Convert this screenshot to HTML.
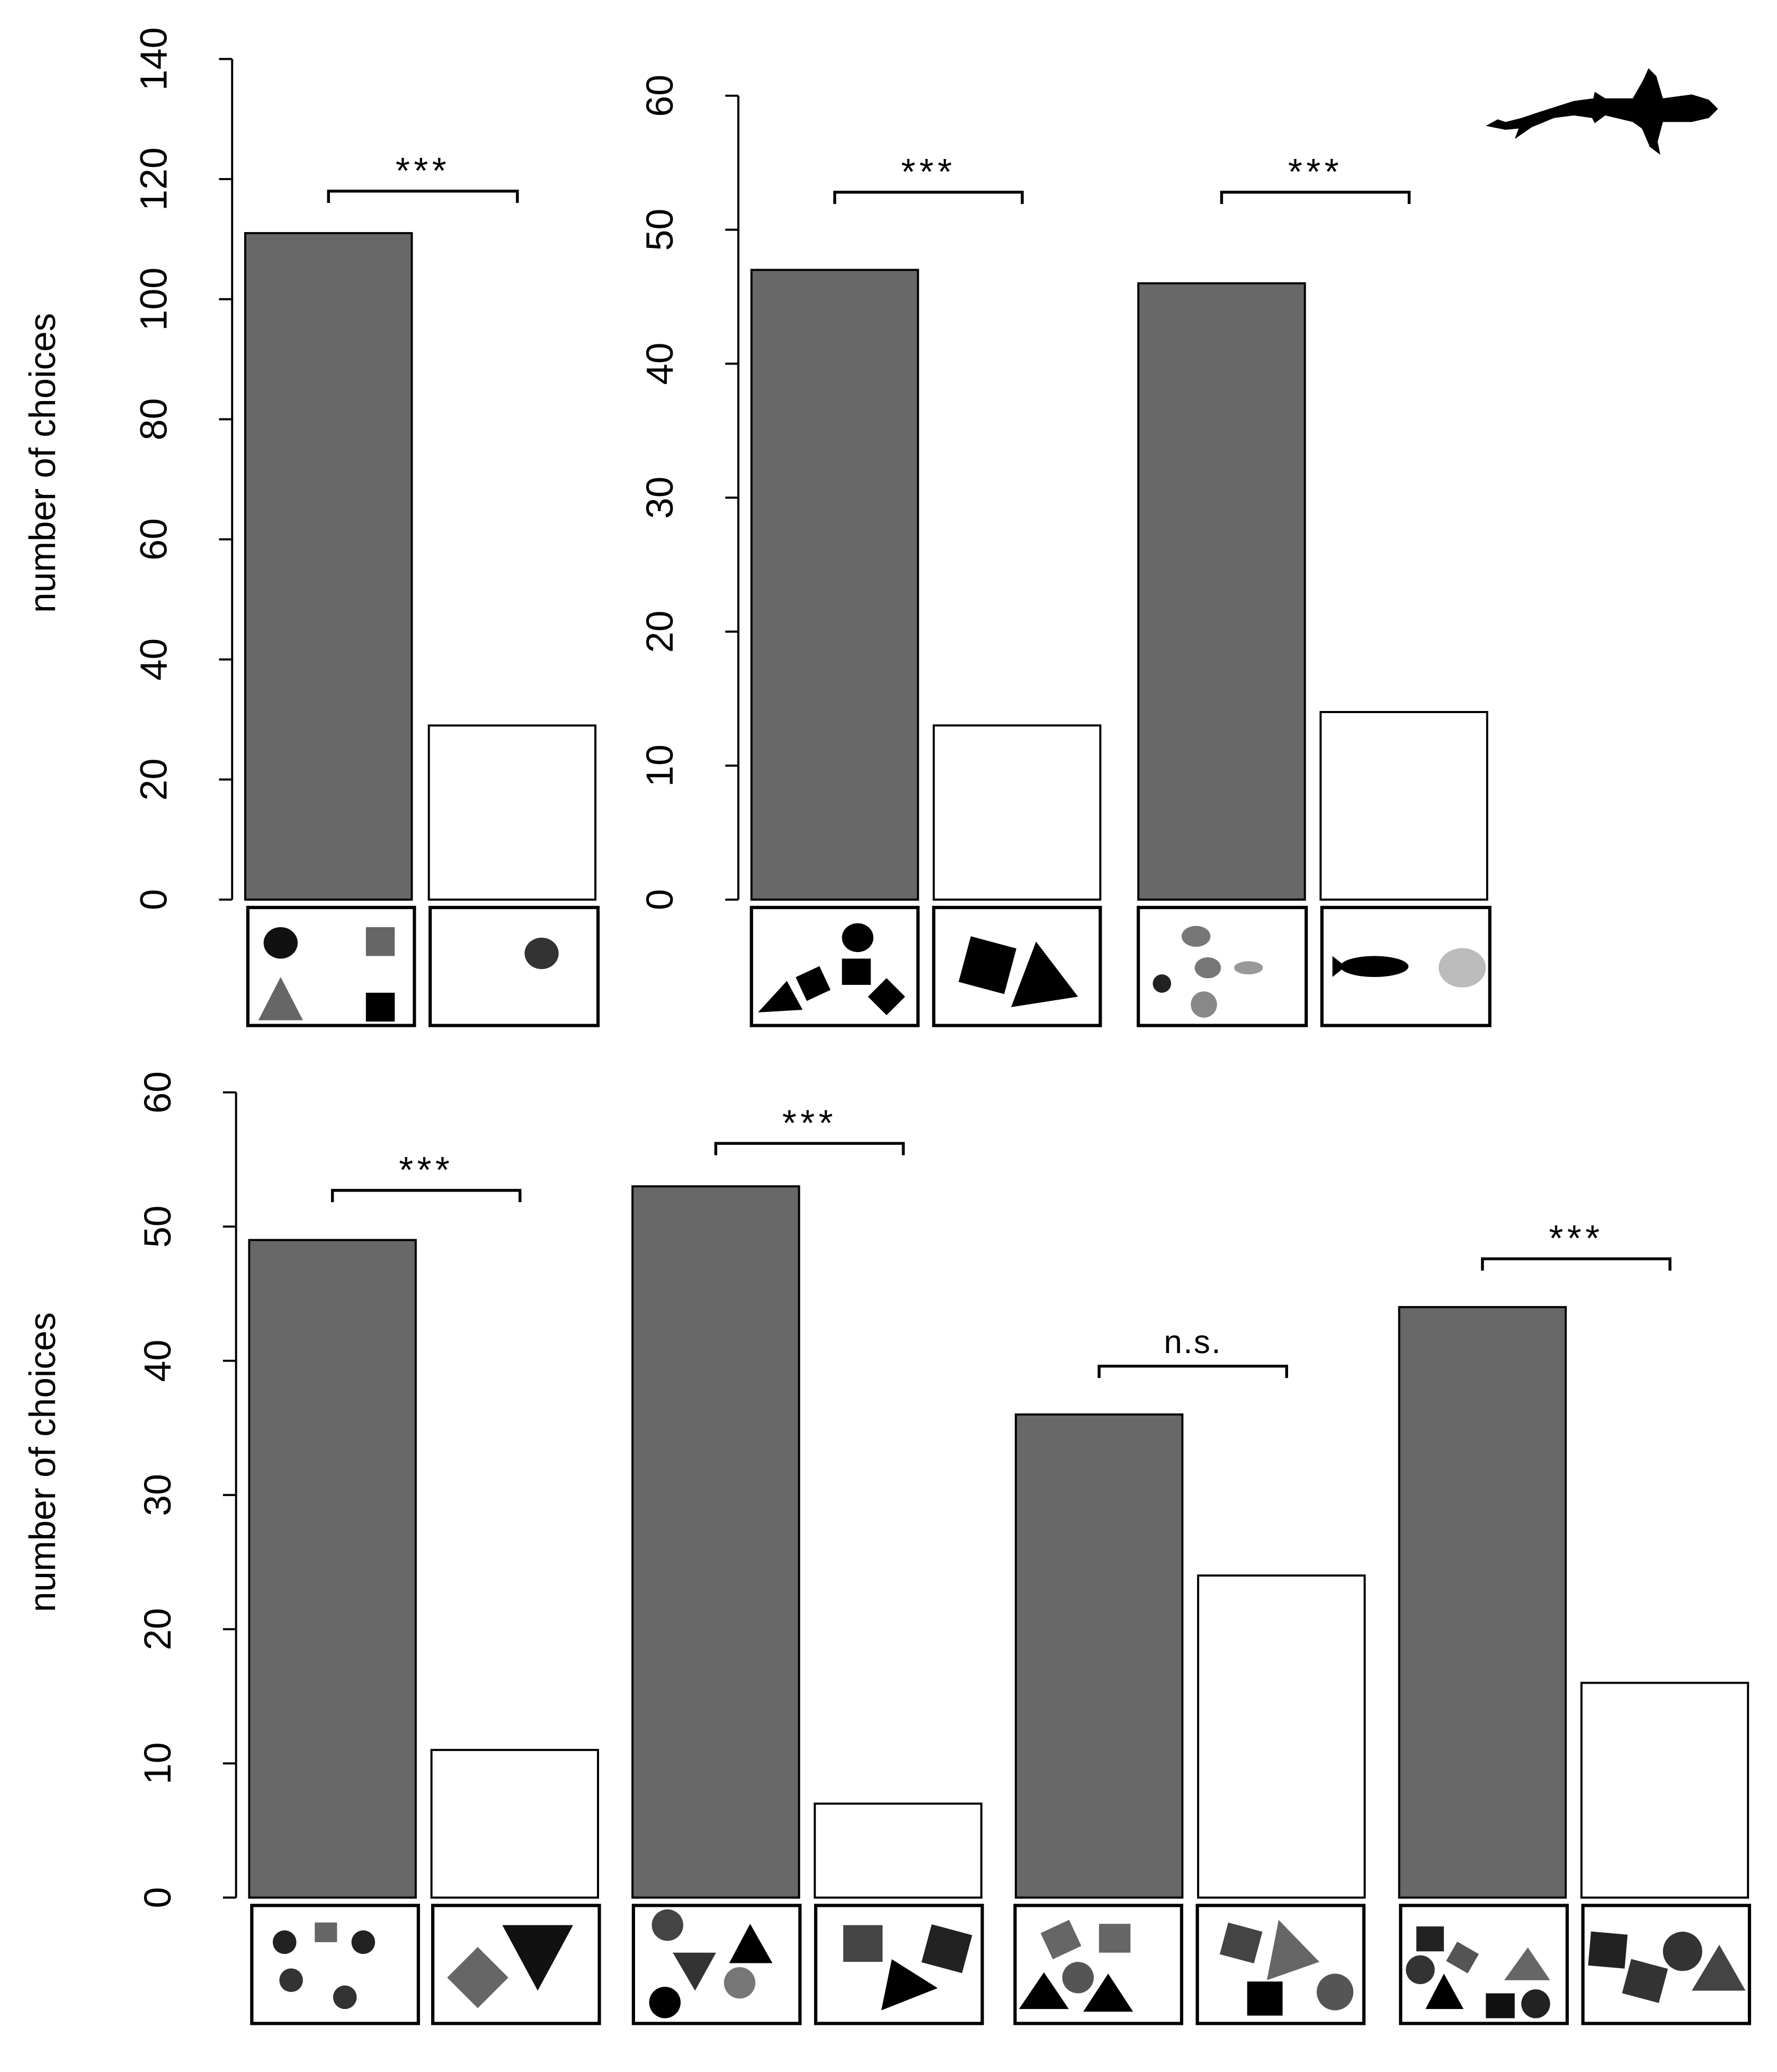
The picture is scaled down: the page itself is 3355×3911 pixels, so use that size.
<!DOCTYPE html>
<html><head><meta charset="utf-8">
<style>
html,body{margin:0;padding:0;background:#fff;}
svg{display:block;}
text{font-family:"Liberation Sans",sans-serif;}
</style></head>
<body>
<svg id="fig" width="3355" height="3911" viewBox="0 0 1355 1580" preserveAspectRatio="none" xmlns="http://www.w3.org/2000/svg">
<g id="marks"></g>
<g id="icons">
  <rect x="189" y="692" width="127" height="90" fill="#fff" stroke="#000" stroke-width="2.5"/>
  <ellipse cx="214" cy="719" rx="13" ry="12" fill="#111"/>
  <rect x="279" y="707" width="22" height="22" fill="#666"/>
  <polygon points="197,778 231,778 214,745" fill="#666"/>
  <rect x="279" y="757" width="22" height="22" fill="#000"/>
  <rect x="328" y="692" width="128" height="90" fill="#fff" stroke="#000" stroke-width="2.5"/>
  <ellipse cx="413" cy="727" rx="13" ry="12" fill="#333"/>
  <rect x="573" y="692" width="127" height="90" fill="#fff" stroke="#000" stroke-width="2.5"/>
  <ellipse cx="654" cy="715" rx="12" ry="11" fill="#000"/>
  <rect x="642" y="731" width="22" height="20" fill="#000"/>
  <polygon points="578,772 612,770 600,748" fill="#000"/>
  <rect x="610" y="740" width="20" height="20" fill="#000" transform="rotate(-25 620 750)"/>
  <rect x="666" y="750" width="20" height="20" fill="#000" transform="rotate(45 676 760)"/>
  <rect x="712" y="692" width="127" height="90" fill="#fff" stroke="#000" stroke-width="2.5"/>
  <rect x="735" y="718" width="36" height="36" fill="#000" transform="rotate(15 753 736)"/>
  <polygon points="771,768 822,760 790,718" fill="#000"/>
  <rect x="868" y="692" width="128" height="90" fill="#fff" stroke="#000" stroke-width="2.5"/>
  <ellipse cx="912" cy="714" rx="11" ry="8" fill="#777"/>
  <ellipse cx="921" cy="738" rx="10" ry="8" fill="#777"/>
  <ellipse cx="952" cy="738" rx="11" ry="5" fill="#999"/>
  <circle cx="886" cy="750" r="7" fill="#222"/>
  <ellipse cx="918" cy="766" rx="10" ry="10" fill="#888"/>
  <rect x="1008" y="692" width="128" height="90" fill="#fff" stroke="#000" stroke-width="2.5"/>
  <polygon points="1016,729 1026,737 1016,745" fill="#000"/>
  <ellipse cx="1048" cy="737" rx="26" ry="8" fill="#000"/>
  <ellipse cx="1115" cy="738" rx="18" ry="15" fill="#bbb"/>
  <rect x="192" y="1453" width="127" height="90" fill="#fff" stroke="#000" stroke-width="2.5"/>
  <circle cx="217" cy="1481" r="9" fill="#222"/><rect x="240" y="1466" width="17" height="15" fill="#666"/>
  <circle cx="277" cy="1481" r="9" fill="#222"/><circle cx="222" cy="1510" r="9" fill="#333"/><circle cx="263" cy="1523" r="9" fill="#333"/>
  <rect x="330" y="1453" width="127" height="90" fill="#fff" stroke="#000" stroke-width="2.5"/>
  <rect x="348" y="1492" width="33" height="33" fill="#666" transform="rotate(45 365 1508)"/>
  <polygon points="383,1468 437,1468 410,1518" fill="#111"/>
  <rect x="483" y="1453" width="127" height="90" fill="#fff" stroke="#000" stroke-width="2.5"/>
  <circle cx="509" cy="1468" r="12" fill="#444"/><polygon points="513,1489 546,1489 530,1518" fill="#333"/>
  <polygon points="556,1497 589,1497 572,1467" fill="#000"/><circle cx="564" cy="1512" r="12" fill="#777"/><circle cx="507" cy="1527" r="12" fill="#000"/>
  <rect x="622" y="1453" width="127" height="90" fill="#fff" stroke="#000" stroke-width="2.5"/>
  <rect x="643" y="1468" width="30" height="28" fill="#444"/><rect x="706" y="1471" width="32" height="30" fill="#222" transform="rotate(15 722 1486)"/>
  <polygon points="672,1533 715,1516 680,1494" fill="#000"/>
  <rect x="774" y="1453" width="127" height="90" fill="#fff" stroke="#000" stroke-width="2.5"/>
  <rect x="797" y="1468" width="24" height="22" fill="#666" transform="rotate(-25 809 1479)"/><rect x="838" y="1467" width="24" height="22" fill="#666"/>
  <circle cx="822" cy="1508" r="12" fill="#555"/><polygon points="777,1532 815,1532 796,1504" fill="#000"/><polygon points="826,1534 864,1534 845,1505" fill="#000"/>
  <rect x="913" y="1453" width="127" height="90" fill="#fff" stroke="#000" stroke-width="2.5"/>
  <rect x="933" y="1469" width="27" height="25" fill="#444" transform="rotate(15 946 1481)"/><polygon points="966,1510 1006,1496 975,1464" fill="#666"/>
  <rect x="951" y="1511" width="27" height="26" fill="#000"/><circle cx="1018" cy="1519" r="14" fill="#555"/>
  <rect x="1068" y="1453" width="127" height="90" fill="#fff" stroke="#000" stroke-width="2.5"/>
  <rect x="1080" y="1469" width="21" height="19" fill="#222"/><circle cx="1083" cy="1502" r="11" fill="#333"/>
  <rect x="1106" y="1484" width="19" height="17" fill="#555" transform="rotate(30 1115 1492)"/><polygon points="1147,1510 1182,1510 1165,1485" fill="#666"/>
  <polygon points="1087,1532 1116,1532 1101,1505" fill="#000"/><rect x="1133" y="1520" width="22" height="19" fill="#111"/><circle cx="1171" cy="1528" r="11" fill="#222"/>
  <rect x="1207" y="1453" width="127" height="90" fill="#fff" stroke="#000" stroke-width="2.5"/>
  <rect x="1212" y="1474" width="28" height="26" fill="#222" transform="rotate(5 1226 1487)"/><circle cx="1283" cy="1488" r="15" fill="#333"/>
  <rect x="1240" y="1497" width="29" height="27" fill="#333" transform="rotate(15 1254 1510)"/><polygon points="1290,1518 1331,1518 1311,1483" fill="#444"/>
</g>
<g>
  <path d="M1133,96 L1142,91 L1148,93 L1160,90 L1175,85 L1200,77 L1215,75 L1216,70 L1224,75 L1245,75 L1253,61 L1257,52 L1263,58 L1268,75 L1290,72 L1303,76 L1310,83 L1303,90 L1290,93 L1268,93 L1264,108 L1266,118 L1258,112 L1252,98 L1245,93 L1224,88 L1216,94 L1214,90 L1200,88 L1185,90 L1168,97 L1155,106 L1158,98 L1148,99 Z" fill="#000"/>
</g>
</svg>
<script>
// ---- data ----
const panelA_categories = ["choice-1a","choice-1b"];
const panelA_values = [111, 29];
const panelA_ticks = [0,20,40,60,80,100,120,140];
const panelB_categories = ["choice-2a","choice-2b","choice-3a","choice-3b"];
const panelB_values = [47, 13, 46, 14];
const panelB_ticks = [0,10,20,30,40,50,60];
const panelC_categories = ["choice-4a","choice-4b","choice-5a","choice-5b","choice-6a","choice-6b","choice-7a","choice-7b"];
const panelC_values = [49, 11, 53, 7, 36, 24, 44, 16];
const panelC_ticks = [0,10,20,30,40,50,60];
const panelA_sig = ["***"];
const panelA_sigLevel = [118];
const panelB_sig = ["***","***"];
const panelB_sigLevel = [52.8, 52.8];
const panelC_sig = ["***","***","n.s.","***"];
const panelC_sigLevel = [52.7, 56.2, 39.6, 47.6];

const NS="http://www.w3.org/2000/svg";
const root=document.getElementById('marks');
function mk(tag,attrs,parent){const e=document.createElementNS(NS,tag);for(const k in attrs)e.setAttribute(k,attrs[k]);(parent||root).appendChild(e);return e;}

function panel(cfg){
  const g=mk('g',{});
  
  
  const y=v=>cfg.y0-(v/cfg.max)*(cfg.y0-cfg.ytop);
  const ax=mk('line',{x1:cfg.ax,x2:cfg.ax,y1:y(cfg.ticks[0]),y2:y(cfg.ticks[cfg.ticks.length-1]),stroke:'#000','stroke-width':1.6},g);
  
  
  cfg.ticks.forEach(t=>{
    const tl=mk('line',{x1:cfg.ax-10,x2:cfg.ax,y1:y(t),y2:y(t),stroke:'#000','stroke-width':1.6},g);
    
    
    const tx=mk('text',{x:0,y:0,'font-size':29,'text-anchor':'middle',transform:`translate(${cfg.ax-50},${y(t)}) rotate(-90)`},g);
    tx.textContent=t;
    
    
  });
  if(cfg.label){
    const lb=mk('text',{x:0,y:0,'font-size':28,'text-anchor':'middle',transform:`translate(${cfg.labelX},${cfg.labelY}) rotate(-90)`},g);
    lb.textContent='number of choices';
    
    
  }
  cfg.values.forEach((v,i)=>{
    const x=cfg.x0+Math.floor(i/2)*cfg.pair+(i%2)*cfg.gap;
    const r=mk('rect',{x:x,y:y(v),width:cfg.bw,height:y(0)-y(v),fill:i%2?'#fff':'#686868',stroke:'#000','stroke-width':1.6},g);
    
    
  });
  cfg.sig.forEach((s,p)=>{
    const by=y(cfg.sigLevel[p]);
    const x1=cfg.x0+p*cfg.pair+cfg.bw/2+(cfg.bOff||0), x2=x1+cfg.gap+4;
    const br=mk('path',{d:`M${x1},${by+9} L${x1},${by} L${x2},${by} L${x2},${by+9}`,fill:'none',stroke:'#000','stroke-width':2.2},g);
    
    
    const st=mk('text',{x:(x1+x2)/2,y:s==='n.s.'?by-10:by-6,'font-size':s==='n.s.'?25:28,'text-anchor':'middle','letter-spacing':s==='n.s.'?1:3},g);
    st.textContent=s;
    
    
  });
}
panel({name:'panel-top-left',ax:177,y0:686,ytop:45,max:140,ticks:panelA_ticks,values:panelA_values,cats:panelA_categories,sig:panelA_sig,sigLevel:panelA_sigLevel,
  x0:187,pair:0,gap:140,bw:127,label:true,labelX:42,labelY:353});
panel({name:'panel-top-right',ax:563,y0:686,ytop:73,max:60,ticks:panelB_ticks,values:panelB_values,cats:panelB_categories,sig:panelB_sig,sigLevel:panelB_sigLevel,
  x0:573,pair:295,gap:139,bw:127,label:false});
panel({name:'panel-bottom',ax:180,y0:1447,ytop:833,max:60,ticks:panelC_ticks,values:panelC_values,cats:panelC_categories,sig:panelC_sig,sigLevel:panelC_sigLevel,
  x0:190,pair:292.3,gap:139,bw:127,label:true,labelX:42,labelY:1115});
</script>
</body></html>
